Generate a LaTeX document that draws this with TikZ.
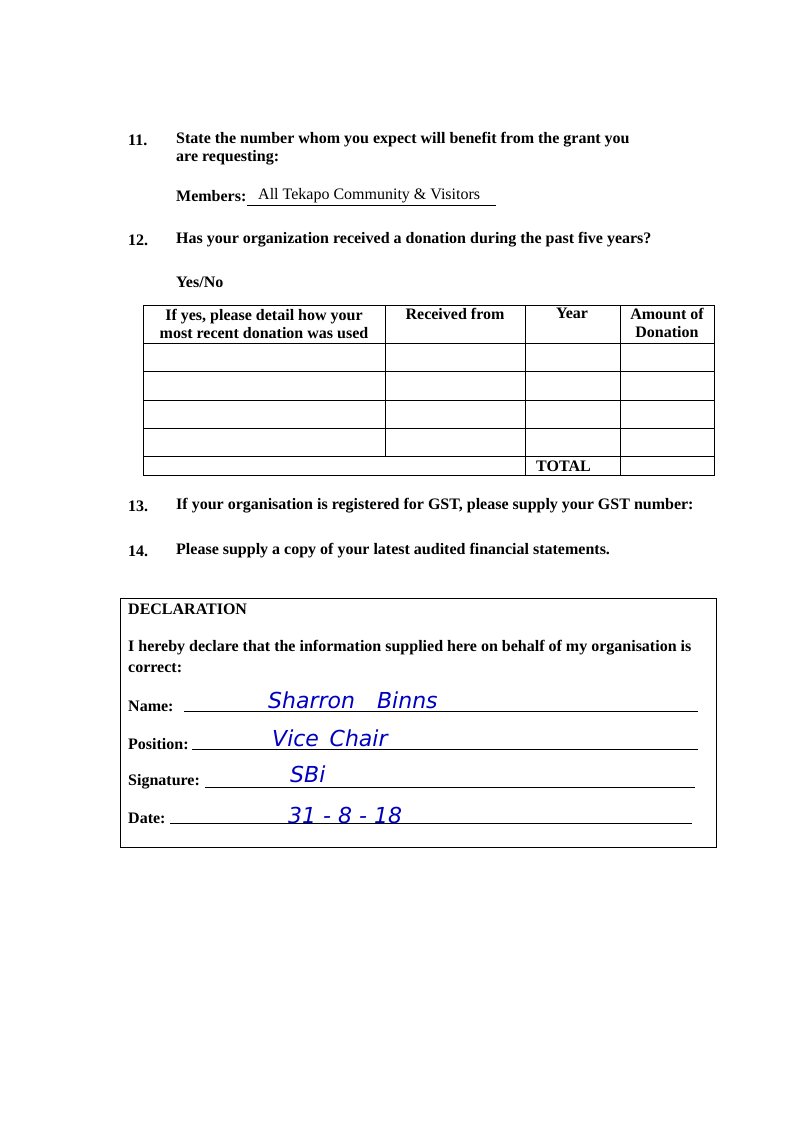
\documentclass[tikz,border=0pt]{standalone}
\usepackage{fontspec}
\setmainfont{Liberation Serif}
\setsansfont{DejaVu Sans}
\tikzset{
	qtext/.style={anchor=west, inner sep=0, font=\fontsize{16}{18.5}\selectfont\bfseries},
	plain/.style={anchor=west, inner sep=0, font=\fontsize{16}{18.5}\selectfont},
	hand/.style={anchor=west, inner sep=0, text=blue!75!black, font=\fontsize{22}{24}\selectfont\sffamily\itshape},
	rule/.style={line width=.8pt}
}
\begin{document}
\begin{tikzpicture}[x=1pt, y=-1pt]
	\useasboundingbox[fill=white] (0,0) rectangle (806,1139);
	% question 11
	\node[qtext] (n11) at (128,140) {11.};
	\node[qtext] (q11a) at (176,140) {State the number whom you expect will benefit from the grant you};
	\node[qtext] (q11b) at (176,158) {are requesting:};
	\node[qtext] (mem) at (176,196) {Members:};
	\node[plain] (memv) at (258,196) {All Tekapo Community \& Visitors};
	\draw[line width=.5pt] (247,205) -- (496,205);
	% question 12
	\node[qtext] (n12) at (128,240) {12.};
	\node[qtext] (q12) at (176,240) {Has your organization received a donation during the past five years?};
	\node[qtext] (yn) at (176,282) {Yes/No};
	% table
	\draw[rule] (143,305) rectangle (714,475);
	\foreach \y in {343,371,400,428,456} \draw[rule] (143,\y) -- (714,\y);
	\draw[rule] (385,305) -- (385,456);
	\foreach \x in {525,620} \draw[rule] (\x,305) -- (\x,475);
	\node[qtext, anchor=center, align=center] (h1) at (264,324) {If yes, please detail how your\\most recent donation was used};
	\node[qtext, anchor=north] (h2) at (455,308) {Received from};
	\node[qtext, anchor=north] (h3) at (572,308) {Year};
	\node[qtext, anchor=north, align=center] (h4) at (667,308) {Amount of\\Donation};
	\node[qtext] (tot) at (536,466) {TOTAL};
	% questions 13, 14
	\node[qtext] (n13) at (128,506) {13.};
	\node[qtext] (q13) at (176,506) {If your organisation is registered for GST, please supply your GST number:};
	\node[qtext] (n14) at (128,551) {14.};
	\node[qtext] (q14) at (176,551) {Please supply a copy of your latest audited financial statements.};
	% declaration
	\draw[rule] (120,598) rectangle (716,847);
	\node[qtext] (decl) at (128,609) {DECLARATION};
	\node[qtext] (d1) at (128,648) {I hereby declare that the information supplied here on behalf of my organisation is};
	\node[qtext] (d2) at (128,668) {correct:};
	\node[qtext] (name) at (128,706) {Name:};
	\draw[rule] (184,711) -- (698,711);
	\node[qtext] (pos) at (128,744) {Position:};
	\draw[rule] (192,749) -- (698,749);
	\node[qtext] (sig) at (128,782) {Signature:};
	\draw[rule] (205,787) -- (695,787);
	\node[qtext] (date) at (128,818) {Date:};
	\draw[rule] (170,823) -- (692,823);
	% handwriting
	\node[hand] (hname) at (268,700) {Sharron\quad Binns};
	\node[hand] (hpos) at (272,738) {Vice\, Chair};
	\node[hand] (hsig) at (290,774) {SBi};
	\node[hand] (hdate) at (288,815) {31 - 8 - 18};
\end{tikzpicture}
\end{document}
